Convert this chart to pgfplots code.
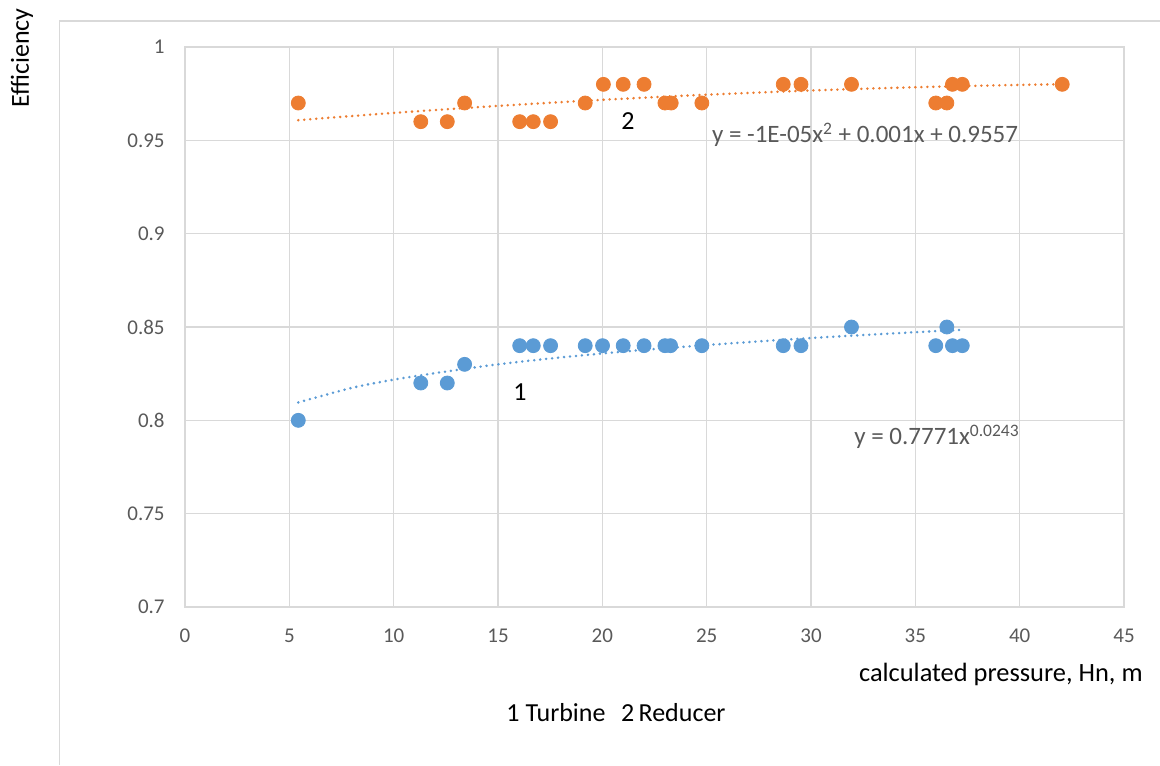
\documentclass[border=0pt]{standalone}
\usepackage{fontspec}
\setmainfont{Carlito}
\usepackage{pgfplots}
\pgfplotsset{compat=1.18}
\definecolor{tblue}{HTML}{5B9BD5}
\definecolor{torange}{HTML}{ED7D31}
\definecolor{gridc}{HTML}{D9D9D9}
\definecolor{tickc}{HTML}{595959}
\begin{document}
\begin{tikzpicture}
\useasboundingbox (0,0) rectangle (580pt,-382.5pt);
\draw[gridc, line width=0.8pt] (29.75pt,-382.5pt) -- (29.75pt,-10.5pt) -- (580pt,-10.5pt);
\node[rotate=90, font=\fontsize{13}{15}\selectfont, anchor=center] at (11pt,-29pt) {Efficiency};
\begin{axis}[
  at={(92.5pt,-303.5pt)}, anchor=south west,
  scale only axis, width=469.5pt, height=280pt,
  xmin=0, xmax=45, ymin=0.7, ymax=1,
  xtick={0,5,...,45}, ytick={0.7,0.75,0.8,0.85,0.9,0.95,1},
  grid=major, major grid style={gridc, line width=0.55pt},
  axis line style={gridc, line width=0.55pt},
  tick style={draw=none},
  tick label style={font=\fontsize{10.5}{12}\selectfont, text=tickc},
  /pgf/number format/.cd, fixed, precision=2, use period, assume math mode=true,
  /pgfplots/.cd,
  xticklabel style={anchor=center, inner sep=0pt, yshift=-14.5pt},
  yticklabel style={anchor=east, inner sep=0pt, xshift=-10pt},
  clip=false,
]
% Turbine
\addplot[only marks, mark=*, mark size=3.5pt, mark options={fill=tblue, draw=tblue}] coordinates {
(5.43,0.80) (11.3,0.82) (12.57,0.82) (13.4,0.83) (16.04,0.84) (16.69,0.84) (17.52,0.84)
(19.18,0.84) (20.01,0.84) (21.0,0.84) (22.0,0.84) (23.0,0.84) (23.27,0.84) (24.77,0.84)
(28.67,0.84) (29.52,0.84) (31.94,0.85) (35.98,0.84) (36.51,0.85) (36.78,0.84) (37.25,0.84)
};
% Reducer
\addplot[only marks, mark=*, mark size=3.5pt, mark options={fill=torange, draw=torange}] coordinates {
(5.43,0.97) (11.3,0.96) (12.57,0.96) (13.4,0.97) (16.04,0.96) (16.69,0.96) (17.52,0.96)
(19.18,0.97) (20.05,0.98) (21.0,0.98) (22.0,0.98) (23.0,0.97) (23.3,0.97) (24.77,0.97)
(28.67,0.98) (29.52,0.98) (31.94,0.98) (35.98,0.97) (36.51,0.97) (36.78,0.98) (37.25,0.98)
(42.04,0.98)
};
% trend lines
\addplot[tblue, line width=1.4pt, dash pattern=on 0pt off 3pt, line cap=round, smooth] coordinates {
(5.43,0.8096) (8,0.8174) (10,0.8218) (12,0.8253) (15,0.8300) (18,0.8337) (21,0.8368)
(24,0.8395) (27,0.8419) (30,0.8441) (33,0.8460) (36,0.8478) (37.1,0.8484)
};
\addplot[torange, line width=1.4pt, dash pattern=on 0pt off 3pt, line cap=round, smooth] coordinates {
(5.43,0.9608) (10,0.9647) (15,0.96845) (20,0.9717) (25,0.97445) (30,0.9767) (35,0.97845) (40,0.9797) (42.04,0.98)
};
\node[font=\fontsize{13}{15}\selectfont] at (axis cs:21.23,0.9604) {2};
\node[font=\fontsize{13}{15}\selectfont] at (axis cs:16.05,0.8153) {1};
\node[anchor=west, inner sep=0pt, text=tickc, font=\fontsize{12.5}{14}\selectfont] at (axis cs:25.24,0.9529) {y = -1E-05x\textsuperscript{2} + 0.001x + 0.9557};
\node[anchor=west, inner sep=0pt, text=tickc, font=\fontsize{12.5}{14}\selectfont] at (axis cs:32.06,0.7912) {y = 0.7771x\textsuperscript{0.0243}};
\end{axis}
\node[anchor=east, inner sep=0pt, font=\fontsize{13.2}{15}\selectfont] at (571.5pt,-337pt) {calculated pressure, Hn, m};
\node[anchor=center, inner sep=0pt, font=\fontsize{13}{15}\selectfont] at (308pt,-356.5pt) {1 Turbine\hspace{0.6em}2\,Reducer};
\end{tikzpicture}
\end{document}
